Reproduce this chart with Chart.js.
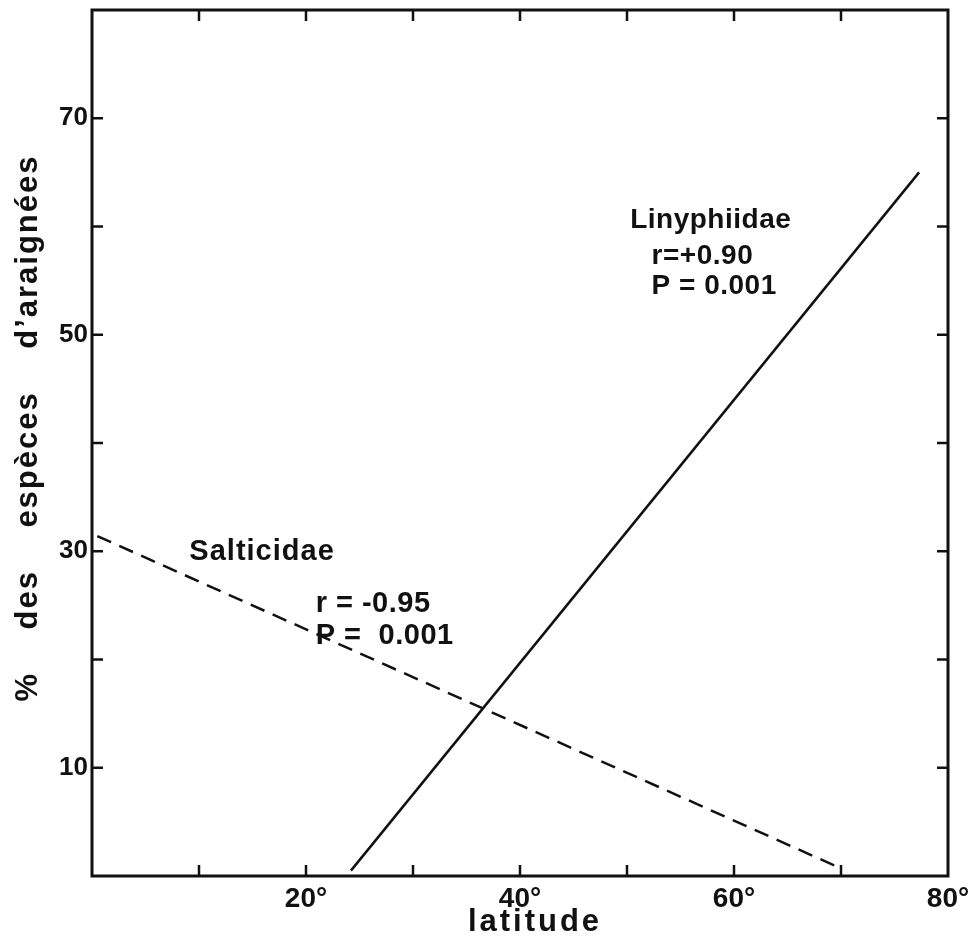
<!DOCTYPE html>
<html>
<head>
<meta charset="utf-8">
<script src="https://cdn.jsdelivr.net/npm/chart.js@4"></script>
<style>
  html, body { margin: 0; background: #fff; }
  #wrap { width: 970px; height: 941px; }
</style>
</head>
<body>
<div id="wrap"><canvas id="c"></canvas></div>
<script>
// axes
const xLabelled = [20, 40, 60, 80];
const yLabelled = [10, 30, 50, 70];

// regression lines (latitude, %)
const linyX = [24.2, 77.3];
const linyY = [0.5, 65.0];
const saltX = [0.5, 70.0];
const saltY = [31.4, 0.7];

// notes: text, latitude, %
const noteText = ['Linyphiidae', 'r=+0.90', 'P = 0.001', 'Salticidae', 'r = -0.95', 'P =  0.001'];
const noteX    = [50.3, 52.3, 52.3, 9.1, 20.9, 20.9];
const noteY    = [59.85, 56.55, 53.75, 29.15, 24.35, 21.4];

const FONT = '"Liberation Sans", Arial, Helvetica, sans-serif';
const ink = '#111';

const toPts = (xs, ys) => xs.map((x, i) => ({ x: x, y: ys[i] }));

const frame = {
  id: 'frame',
  afterDraw(chart) {
    const { ctx, chartArea: a, scales: { x, y } } = chart;
    ctx.save();
    ctx.strokeStyle = ink;
    ctx.lineWidth = 3;
    ctx.strokeRect(a.left, a.top, a.right - a.left, a.bottom - a.top);

    // inward tick marks on all four sides
    const len = 11;
    ctx.lineWidth = 2.5;
    ctx.beginPath();
    x.ticks.forEach(t => {
      if (t.value <= x.min || t.value >= x.max) return;
      const px = x.getPixelForValue(t.value);
      ctx.moveTo(px, a.bottom); ctx.lineTo(px, a.bottom - len);
      ctx.moveTo(px, a.top); ctx.lineTo(px, a.top + len);
    });
    y.ticks.forEach(t => {
      if (t.value <= y.min || t.value >= y.max) return;
      const py = y.getPixelForValue(t.value);
      ctx.moveTo(a.left, py); ctx.lineTo(a.left + len, py);
      ctx.moveTo(a.right, py); ctx.lineTo(a.right - len, py);
    });
    ctx.stroke();

    // notes
    ctx.fillStyle = ink;
    ctx.textAlign = 'left';
    ctx.textBaseline = 'alphabetic';
    noteText.forEach((s, i) => {
      ctx.font = 'bold ' + (i < 3 ? 28 : 29) + 'px ' + FONT;
      ctx.letterSpacing = i === 3 ? '1px' : '0.5px';
      ctx.fillText(s, x.getPixelForValue(noteX[i]), y.getPixelForValue(noteY[i]));
    });

    // axis titles
    ctx.font = 'bold 31px ' + FONT;
    ctx.textAlign = 'center';
    ctx.letterSpacing = '3px';
    ctx.fillText('latitude', (a.left + a.right) / 2 + 15, 931);

    ctx.translate(28, 428);
    ctx.rotate(-Math.PI / 2);
    ctx.textBaseline = 'middle';
    ctx.letterSpacing = '2px';
    ctx.fillText('%    des    espèces    d’araignées', 0, 0);
    ctx.restore();
  }
};

new Chart(document.getElementById('c'), {
  type: 'scatter',
  data: {
    datasets: [{
      label: 'Linyphiidae',
      data: toPts(linyX, linyY),
      showLine: true,
      borderColor: ink,
      borderWidth: 2.5,
      pointRadius: 0,
      tension: 0
    }, {
      label: 'Salticidae',
      data: toPts(saltX, saltY),
      showLine: true,
      borderColor: ink,
      borderWidth: 2.5,
      borderDash: [15, 9],
      pointRadius: 0,
      tension: 0
    }]
  },
  plugins: [frame],
  options: {
    responsive: true,
    maintainAspectRatio: false,
    animation: false,
    layout: { padding: { top: 10, right: 22, left: 0, bottom: 0 } },
    plugins: {
      legend: { display: false },
      tooltip: { enabled: false }
    },
    scales: {
      x: {
        type: 'linear',
        min: 0, max: 80,
        grid: { display: false, drawTicks: false },
        border: { display: false },
        ticks: {
          stepSize: 10,
          padding: 6,
          autoSkip: false,
          maxRotation: 0,
          color: ink,
          font: { family: FONT, size: 28, weight: 'bold' },
          callback: v => xLabelled.includes(v) ? v + '°' : ''
        },
        afterFit: s => { s.height = 65; s.paddingLeft = 0; s.paddingRight = 0; }
      },
      y: {
        type: 'linear',
        min: 0, max: 80,
        grid: { display: false, drawTicks: false },
        border: { display: false },
        ticks: {
          stepSize: 10,
          padding: 4,
          autoSkip: false,
          color: ink,
          font: { family: FONT, size: 26, weight: 'bold' },
          callback: v => yLabelled.includes(v) ? String(v) : ''
        },
        afterFit: s => { s.width = 92; s.paddingTop = 0; s.paddingBottom = 0; }
      }
    }
  }
});
</script>
</body>
</html>
